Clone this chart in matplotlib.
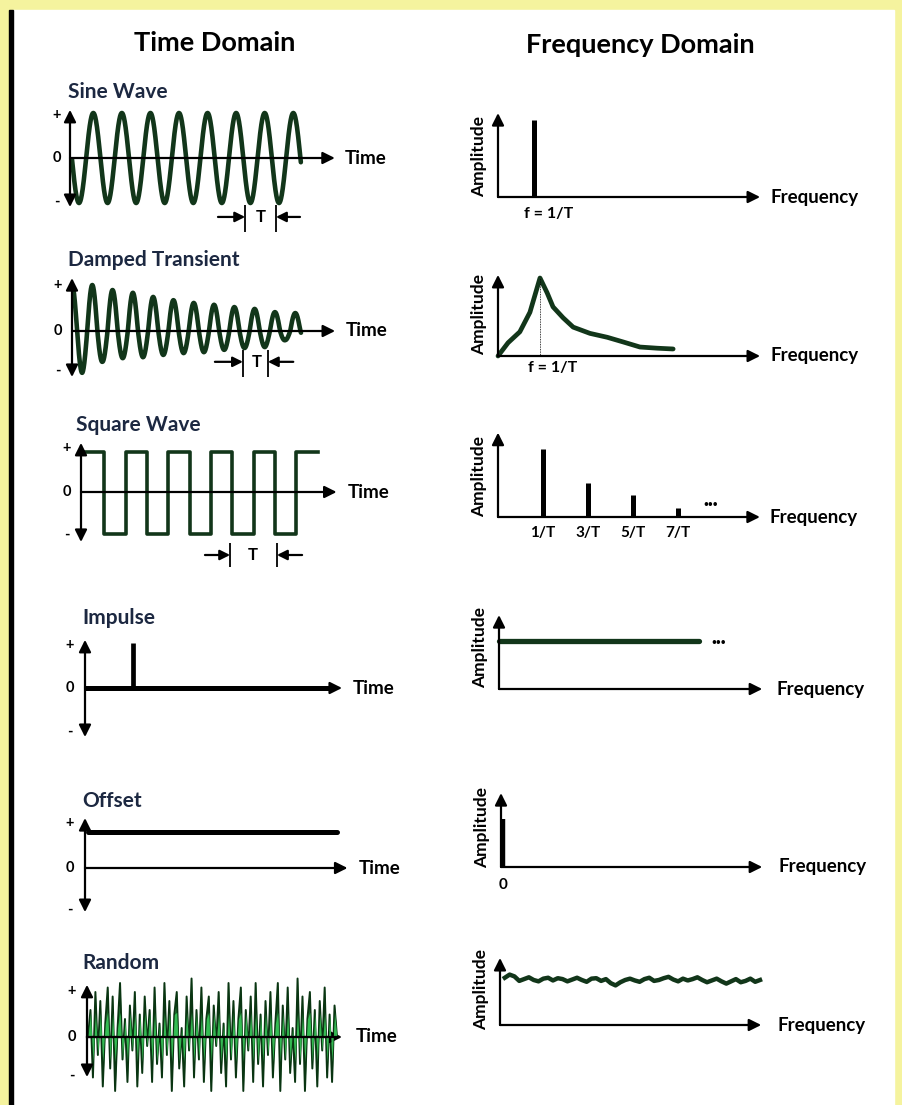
import numpy as np
import matplotlib
matplotlib.use('Agg')
import matplotlib.pyplot as plt
from matplotlib.patches import Rectangle

plt.rcParams['font.family'] = ['Lato', 'DejaVu Sans']

# ------------------------------------------------------------------ data
TITLES = ['Time Domain', 'Frequency Domain']
ROW_LABELS = ['Sine Wave', 'Damped Transient', 'Square Wave', 'Impulse', 'Offset', 'Random']

# sine wave (time in periods, amplitude normalised)
SINE_SPAN = (0.07, 8.08)
SINE_FIRST_PEAK = 0.815

# damped transient: peak / trough magnitudes
DAMPED_SPAN = (0.05, 11.28)
DAMPED_PEAK_T = [1, 2, 3, 4, 5, 6, 7, 8, 9, 10, 11]
DAMPED_PEAKS = [1.0, 0.89, 0.83, 0.74, 0.67, 0.61, 0.57, 0.52, 0.48, 0.41, 0.39]
DAMPED_TROUGH_T = [0.5, 1.5, 2.5, 3.5, 4.5, 5.5, 6.5, 7.5, 8.5, 9.5, 10.5]
DAMPED_TROUGHS = [0.91, 0.67, 0.59, 0.57, 0.52, 0.48, 0.46, 0.41, 0.37, 0.35, 0.20]

# square wave: edge times and level in each interval
SQUARE_EDGES = [0.05, 0.55, 1.05, 1.55, 2.05, 2.55, 3.05, 3.55, 4.05, 4.55, 5.05, 5.56]
SQUARE_LEVELS = [0.95, -1.0, 0.95, -1.0, 0.95, -1.0, 0.95, -1.0, 0.95, -1.0, 0.95]

IMPULSE_T = 1.92
IMPULSE_H = 1.0

OFFSET_LEVEL = 0.8
OFFSET_SPAN = (0.12, 10.08)

RANDOM_SPAN = (0.04, 10.0)
RANDOM_SIGNAL = [0.0, 0.6, -0.9, 1.0, -0.4, 0.8, -1.1, 0.3, 1.1, -0.7, 0.9, -1.2, 0.2, 1.2,
                 -0.5, 0.4, -1.0, 0.7, -0.3, 1.0, -1.1, 0.5, -0.8, 0.9, -0.2, 0.6, -1.0, 1.1,
                 -0.6, 0.3, -0.9, 1.2, -0.4, 0.8, -1.2, 0.5, 1.0, -0.7, 0.2, -1.1, 0.9, -0.3,
                 1.3, -0.9, 0.6, -0.5, 1.1, -1.0, 0.4, 0.9, -1.2, 0.7, -0.2, 1.0, -0.8, 0.3,
                 -1.1, 1.2, -0.5, 0.8, -0.9, 0.4, 1.1, -1.2, 0.6, -0.3, 0.9, -1.0, 1.2, -0.6,
                 0.5, -1.1, 0.8, -0.4, 1.0, -0.9, 0.3, 1.2, -1.2, 0.7, -0.5, 1.1, -0.8, 0.2,
                 -1.0, 1.3, -0.6, 0.9, -1.2, 0.4, 1.0, -0.7, 0.6, -1.1, 0.8, -0.3, 1.1, -0.9,
                 0.5, -1.0, 0.7, 0.0]
RANDOM_CORE = 0.55   # height of the bright-green core of the noise band

# frequency-domain data
SINE_SPEC_F, SINE_SPEC_A = [1.0], [1.0]
DAMPED_SPEC_F = [0, 0.24, 0.52, 0.76, 1.0, 1.17, 1.31, 1.55, 1.79, 2.19, 2.6, 2.98, 3.38,
                 3.79, 4.17]
DAMPED_SPEC_A = [0, 0.17, 0.31, 0.56, 1.0, 0.81, 0.63, 0.49, 0.37, 0.29, 0.24, 0.18, 0.115,
                 0.10, 0.09]
SQUARE_HARMONICS = [1, 3, 5, 7]
SQUARE_SPEC_A = [1.0, 0.5, 0.32, 0.13]
SQUARE_LABELS = ['1/T', '3/T', '5/T', '7/T']
IMPULSE_SPEC_SPAN = (0.0, 5.0)
IMPULSE_SPEC_A = 1.0
OFFSET_SPEC_F, OFFSET_SPEC_A = [0.04], [1.0]
RANDOM_SPEC_SPAN = (0.12, 6.5)
RANDOM_SPEC = [1.05, 1.12, 1.08, 0.98, 1.02, 1.06, 1.0, 0.97, 1.03, 1.05, 0.99, 1.04, 1.02,
               0.97, 1.01, 1.05, 1.0, 0.96, 1.03, 1.04, 0.98, 1.02, 0.93, 0.88, 0.95, 1.0,
               1.03, 0.99, 0.96, 1.02, 1.05, 0.98, 1.0, 1.04, 1.07, 1.01, 0.97, 1.03, 0.99,
               1.02, 1.06, 1.0, 0.95, 0.99, 1.03, 0.97, 0.92, 0.97, 1.02, 0.95, 0.98, 1.03,
               0.96, 1.0]

# ------------------------------------------------------------------ style
W, H = 902, 1105
YELLOW = '#f5f39e'
WAVE = '#12361a'
LABEL_C = '#1c2841'
fig = plt.figure(figsize=(W / 100, H / 100), dpi=100)
fig.set_facecolor(YELLOW)
fig.add_artist(Rectangle((13 / W, 0), (894 - 13) / W, (H - 10) / H,
                         transform=fig.transFigure, color='white', zorder=0))
fig.add_artist(Rectangle((9 / W, 0), 4 / W, (H - 10) / H,
                         transform=fig.transFigure, color='black', zorder=0))

fig.text(215 / W, 1 - 43 / H, TITLES[0], ha='center', va='center', fontsize=19.5, weight='bold')
fig.text(640 / W, 1 - 45 / H, TITLES[1], ha='center', va='center', fontsize=19.5, weight='bold')

label_pos = [(68, 92), (68, 260), (76, 425), (82, 618), (82, 801), (82, 963)]
for (lx, ly), txt in zip(label_pos, ROW_LABELS):
    fig.text(lx / W, 1 - ly / H, txt, ha='left', va='center', fontsize=15,
             weight='bold', color=LABEL_C)


def panel(x0, y0, sx, sy, xlim, ylim):
    left = x0 + xlim[0] * sx
    right = x0 + xlim[1] * sx
    top = y0 - ylim[1] * sy
    bottom = y0 - ylim[0] * sy
    ax = fig.add_axes([left / W, 1 - bottom / H, (right - left) / W, (bottom - top) / H])
    ax.set_xlim(*xlim)
    ax.set_ylim(*ylim)
    ax.axis('off')
    ax.patch.set_alpha(0)
    return ax


def arrow(ax, p_from, p_to, both=False, lw=1.6, scale=12):
    style = ('<|-|>' if both else '-|>') + ',head_length=0.6,head_width=0.3'
    ax.annotate('', xy=p_to, xytext=p_from, annotation_clip=False,
                arrowprops=dict(arrowstyle=style, color='black', lw=lw,
                                shrinkA=0, shrinkB=0, mutation_scale=scale))


def time_axes(ax, x_tip, y_top, y_bot, label_dx, plus_y, minus_y, time_dx):
    arrow(ax, (0, y_bot), (0, y_top), both=True)
    arrow(ax, (0, 0), (x_tip, 0))
    for s, yy in (('+', plus_y), ('0', 0), ('-', minus_y)):
        ax.annotate(s, xy=(0, yy), xytext=(label_dx, 0), textcoords='offset pixels',
                    ha='center', va='center', fontsize=10.5, weight='bold',
                    annotation_clip=False)
    ax.annotate('Time', xy=(x_tip, 0), xytext=(time_dx, 0), textcoords='offset pixels',
                ha='left', va='center', fontsize=13.5, weight='bold', annotation_clip=False)


def freq_axes(ax, x0, x_tip, y_tip, amp_mid, freq_dx=10):
    arrow(ax, (x0, 0), (x0, y_tip))
    arrow(ax, (x0, 0), (x_tip, 0))
    ax.annotate('Amplitude', xy=(x0, amp_mid), xytext=(-19, 0), textcoords='offset pixels',
                rotation=90, ha='center', va='center', fontsize=12.5, weight='bold',
                annotation_clip=False)
    ax.annotate('Frequency', xy=(x_tip, 0), xytext=(freq_dx, 0), textcoords='offset pixels',
                ha='left', va='center', fontsize=13.5, weight='bold', annotation_clip=False)


def t_marker(ax, xa, xb, y_lo, y_hi, y_ar, x_left, x_right, x_text):
    ax.vlines([xa, xb], y_lo, y_hi, color='black', lw=1.3, clip_on=False)
    arrow(ax, (x_left, y_ar), (xa, y_ar), lw=1.6, scale=10)
    arrow(ax, (x_right, y_ar), (xb, y_ar), lw=1.6, scale=10)
    ax.text(x_text, y_ar, 'T', ha='center', va='center', fontsize=12, weight='bold',
            clip_on=False)


# ------------------------------------------------------------------ sine
ax = panel(70, 158, 28.57, 45, (-1.5, 11), (-1.8, 1.3))
t = np.linspace(*SINE_SPAN, 1200)
ax.plot(t, np.cos(2 * np.pi * (t - SINE_FIRST_PEAK)), color=WAVE, lw=3.3,
        solid_capstyle='round', clip_on=False, zorder=3)
time_axes(ax, 9.27, 1.07, -1.09, -13, 0.95, -0.98, 10)
t_marker(ax, 6.13, 7.21, -1.04, -1.64, -1.31, 5.18, 8.05, 6.67)

ax = panel(498, 197, 36, 77, (-1, 10), (-0.5, 1.2))
ax.vlines(SINE_SPEC_F, 0, SINE_SPEC_A, color='black', lw=3.6)
freq_axes(ax, 0, 7.28, 1.09, 0.53)
ax.text(1.4, -0.22, 'f = 1/T', ha='center', va='center', fontsize=11.5, weight='bold')

# ------------------------------------------------------------------ damped
ax = panel(72, 331, 20.3, 46, (-1.5, 16), (-1.2, 1.3))
t = np.linspace(*DAMPED_SPAN, 2000)
c = np.cos(2 * np.pi * t)
env_p = np.interp(t, DAMPED_PEAK_T, DAMPED_PEAKS)
env_t = np.interp(t, DAMPED_TROUGH_T, DAMPED_TROUGHS)
ax.plot(t, np.where(c > 0, c * env_p, c * env_t), color=WAVE, lw=3.3,
        solid_capstyle='round', clip_on=False, zorder=3)
time_axes(ax, 12.96, 1.15, -1.0, -14, 1.0, -0.87, 11)
t_marker(ax, 8.42, 9.65, -0.41, -1.0, -0.67, 7.04, 10.9, 9.1)

ax = panel(498, 356, 42, 78, (-1, 8), (-0.4, 1.2))
ax.plot(DAMPED_SPEC_F, DAMPED_SPEC_A, color=WAVE, lw=3.4, solid_joinstyle='round',
        solid_capstyle='round')
ax.vlines(1.0, 0, 1.0, color='black', lw=0.6, linestyles=(0, (1, 1)))
freq_axes(ax, 0, 6.24, 1.04, 0.53)
ax.text(1.3, -0.15, 'f = 1/T', ha='center', va='center', fontsize=11.5, weight='bold')

# ------------------------------------------------------------------ square
ax = panel(81, 492, 42.6, 42, (-1, 8), (-2.0, 1.3))
xs, ys = [], []
for i, lv in enumerate(SQUARE_LEVELS):
    xs += [SQUARE_EDGES[i], SQUARE_EDGES[i + 1]]
    ys += [lv, lv]
ax.plot(xs, ys, color=WAVE, lw=2.6, solid_joinstyle='round', clip_on=False, zorder=3)
time_axes(ax, 6.0, 1.17, -1.19, -14, 1.05, -1.02, 11)
t_marker(ax, 3.5, 4.6, -1.21, -1.79, -1.5, 2.91, 5.19, 4.04)

# vertical axis of this spectrum sits at f = -1 (pixel 498)
ax = panel(498 + 22.5, 517, 22.5, 68, (-2, 14), (-0.5, 1.3))
ax.vlines(SQUARE_HARMONICS, 0, SQUARE_SPEC_A, color='black', lw=3.6)
freq_axes(ax, -1, 10.64, 1.24, 0.6)
for f, lab in zip(SQUARE_HARMONICS, SQUARE_LABELS):
    ax.text(f, -0.24, lab, ha='center', va='center', fontsize=11, weight='bold')
ax.text(8.47, 0.26, '...', ha='center', va='center', fontsize=15, weight='heavy')

# ------------------------------------------------------------------ impulse
ax = panel(85, 688, 25, 45, (-1, 12), (-1.2, 1.2))
ax.plot([0, 10.0], [0, 0], color='black', lw=3.6, solid_capstyle='butt')
ax.vlines(IMPULSE_T, 0, IMPULSE_H, color='black', lw=3.4)
time_axes(ax, 10.28, 1.07, -1.09, -15, 0.95, -0.98, 11)

ax = panel(499, 689, 40, 48, (-1, 8), (-0.5, 1.7))
ax.plot(IMPULSE_SPEC_SPAN, [IMPULSE_SPEC_A] * 2, color=WAVE, lw=3.8, solid_capstyle='round')
freq_axes(ax, 0, 6.58, 1.54, 0.875, freq_dx=14)
ax.text(5.48, 1.08, '...', ha='center', va='center', fontsize=15, weight='heavy')

# ------------------------------------------------------------------ offset
ax = panel(85, 868, 25, 45, (-1, 12), (-1.2, 1.2))
ax.plot(OFFSET_SPAN, [OFFSET_LEVEL] * 2, color='black', lw=3.6, solid_capstyle='round')
time_axes(ax, 10.5, 1.11, -0.98, -15, 1.0, -0.93, 11)

ax = panel(501, 867, 40, 48, (-1, 8), (-0.6, 1.7))
ax.vlines(OFFSET_SPEC_F, 0, OFFSET_SPEC_A, color='black', lw=3.2)
freq_axes(ax, 0, 6.53, 1.54, 0.83, freq_dx=16)
ax.text(0.05, -0.375, '0', ha='center', va='center', fontsize=11, weight='bold')

# ------------------------------------------------------------------ random
ax = panel(87, 1037, 25, 45, (-1, 12), (-1.5, 1.5))
tr = np.linspace(*RANDOM_SPAN, len(RANDOM_SIGNAL))
sig = np.array(RANDOM_SIGNAL)
ax.fill_between(tr, sig, 0, color='#1f8f38', lw=0, zorder=2)
ax.plot(tr, sig, color='#0a3512', lw=1.4, zorder=3)
core = np.clip(sig, -RANDOM_CORE, RANDOM_CORE)
ax.fill_between(tr, core, 0, color='#37c457', lw=0, alpha=0.9, zorder=4)
ax.plot([0, 10.0], [0, 0], color='black', lw=1.6, zorder=5)
time_axes(ax, 10.2, 1.16, -0.89, -15, 1.02, -0.85, 14)

ax = panel(500, 1025, 40, 45, (-1, 8), (-0.5, 1.7))
fr = np.linspace(*RANDOM_SPEC_SPAN, len(RANDOM_SPEC))
ax.plot(fr, RANDOM_SPEC, color=WAVE, lw=3.2, solid_joinstyle='round')
freq_axes(ax, 0, 6.53, 1.49, 0.78, freq_dx=16)

fig.savefig('out.png', dpi=100, facecolor=YELLOW)
